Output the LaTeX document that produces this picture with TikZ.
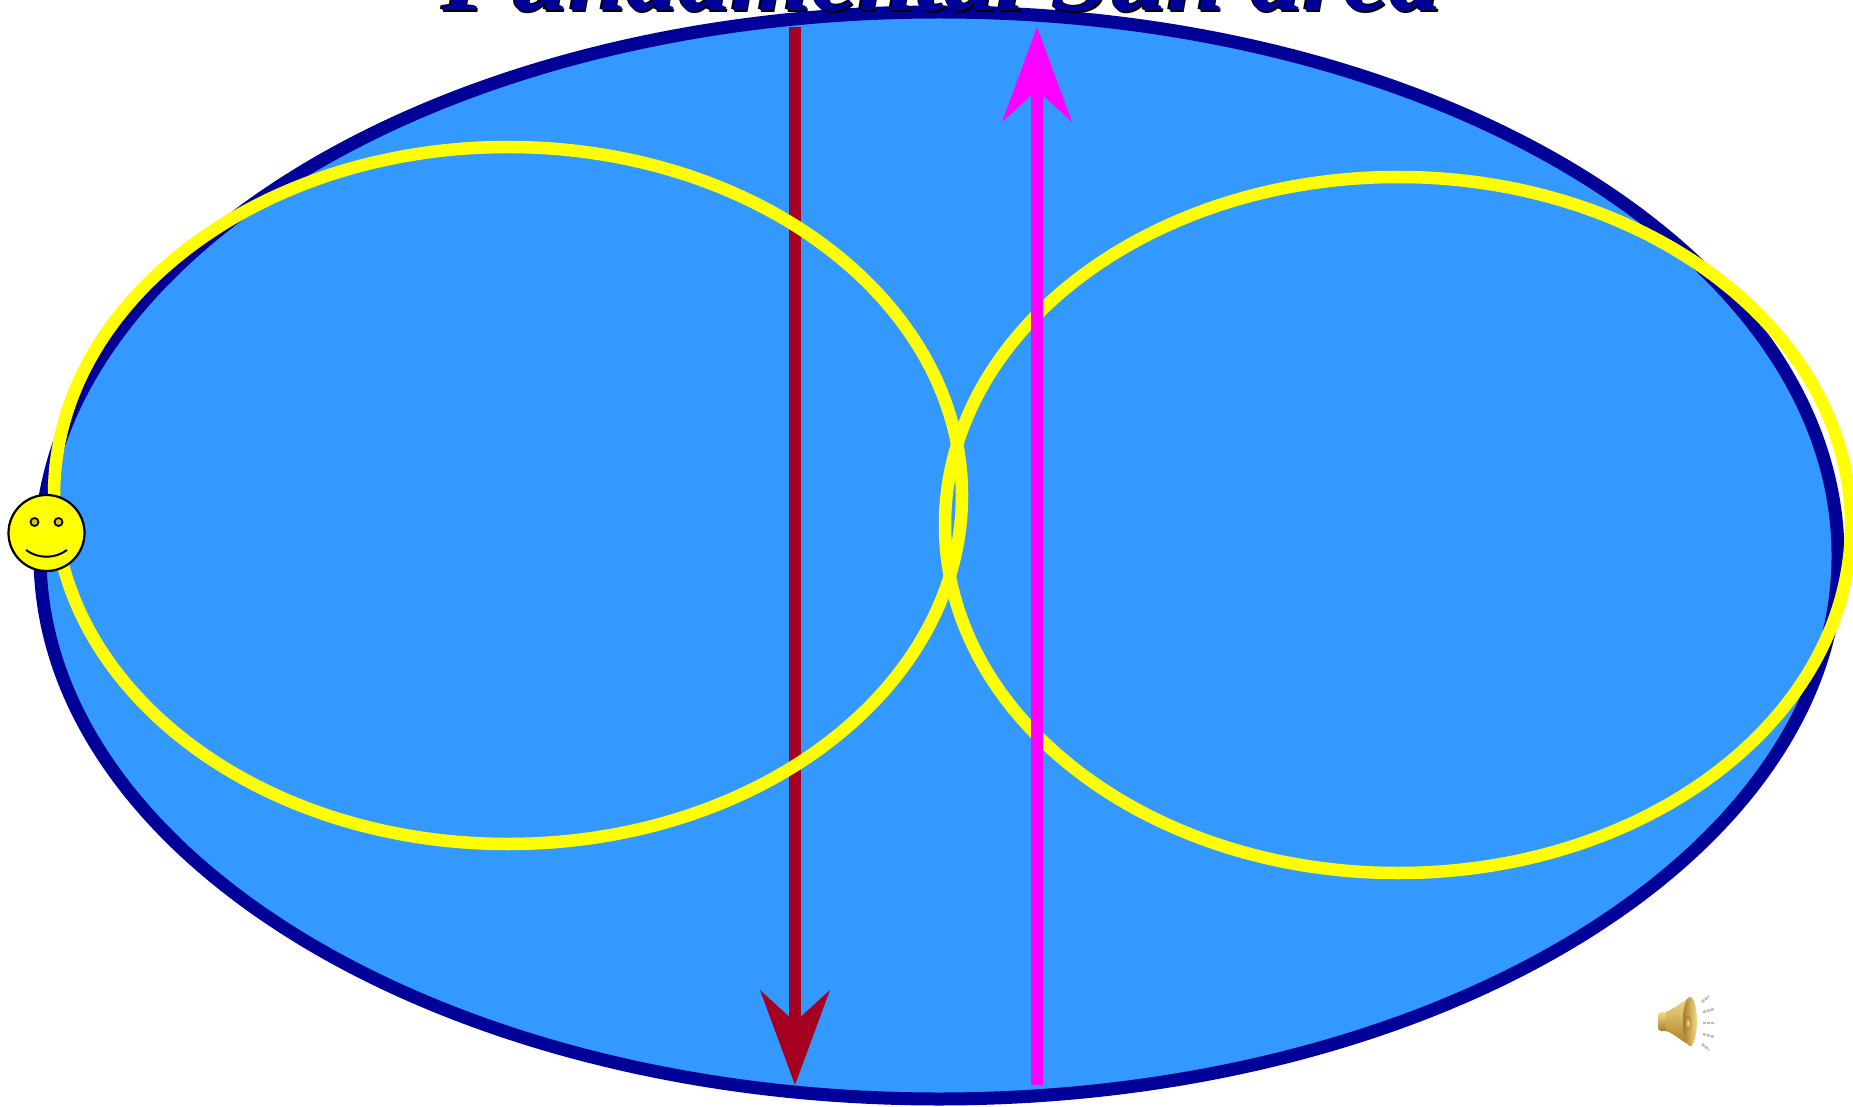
\documentclass[tikz,border=0pt]{standalone}
\usepackage{fontspec}
\setmainfont{Liberation Serif}
\usetikzlibrary{arrows.meta}
\definecolor{skyfill}{HTML}{3399FF}
\definecolor{navyline}{HTML}{000099}
\definecolor{redline}{HTML}{A50021}
\definecolor{magline}{HTML}{FF00FF}
\definecolor{yelline}{HTML}{FFFF00}
\definecolor{eyefill}{HTML}{CCCC00}
\definecolor{goldA}{HTML}{F4DC8C}
\definecolor{goldM}{HTML}{DDB850}
\definecolor{goldB}{HTML}{A87C24}
\tikzset{
  x=1pt,y=-1pt,
  loop/.style={draw=yelline,line width=12.5pt},
  downarrow/.style={draw=redline,line width=12pt,-{Stealth[length=95pt,width=70pt,inset=32pt,fill=redline,line width=0pt]}},
  uparrow/.style={draw=magline,line width=12pt,-{Stealth[length=95pt,width=70pt,inset=32pt,fill=magline,line width=0pt]}},
  titletext/.style={font=\fontsize{104}{104}\selectfont\bfseries\itshape,anchor=base,inner sep=0pt},
  ray/.style={draw=gray!55,line width=2.4pt,dash pattern=on 3pt off 1pt},
}
\begin{document}
\begin{tikzpicture}
\useasboundingbox (0,0) rectangle (1853,1107);
\clip (0,0) rectangle (1853,1107);
\draw[draw=navyline,line width=13pt,fill=skyfill] (939,555.5) ellipse [x radius=899,y radius=543.5];
\coordinate (redtop) at (795,27);
\coordinate (redtip) at (795,1085);
\coordinate (magbottom) at (1037,1085);
\coordinate (magtip) at (1037,27);
\draw[downarrow] (redtop) -- (redtip);
\draw[loop] (508,495.5) ellipse [x radius=454,y radius=348.5];
\draw[loop] (1398,525) ellipse [x radius=453,y radius=348];
\draw[uparrow] (magbottom) -- (magtip);
\node[titletext,text=black] (titleshadow) at (943.5,12.5) {Fundamental Sun area};
\node[titletext,text=black] (titleedge) at (940.5,9.5) {Fundamental Sun area};
\node[titletext,text=navyline] (titlemain) at (942,10.5) {Fundamental Sun area};
% smiley
\node[circle,draw=black,line width=2.2pt,fill=yelline,minimum size=76pt,inner sep=0pt] (face) at (46.5,533) {};
\draw[black,line width=1.8pt,fill=eyefill] (34.5,522) circle (4pt) (58.5,522) circle (4pt);
\draw[black,line width=2pt] (26,550) .. controls (38,559) and (55,559) .. (67,550);
% speaker
\shade[top color=goldA,bottom color=goldB,rounded corners=3pt] (1658,1012) rectangle (1670,1031);
\shade[top color=goldA,bottom color=goldB] (1666,1012) .. controls (1675,1008) and (1682,1002) .. (1690,997) -- (1692,1046) .. controls (1682,1042) and (1675,1034) .. (1666,1031) -- cycle;
\shade[left color=goldB,right color=goldA] (1690,1021.5) ellipse [x radius=7,y radius=24.5];
\shade[inner color=goldA,outer color=goldB] (1688,1023) ellipse [x radius=3.5,y radius=7];
\draw[ray] (1702,1002) -- (1709,996);
\draw[ray] (1703,1012) -- (1714,1009);
\draw[ray] (1703,1023) -- (1714,1023);
\draw[ray] (1703,1034) -- (1714,1037);
\draw[ray] (1702,1044) -- (1709,1050);
\end{tikzpicture}
\end{document}
